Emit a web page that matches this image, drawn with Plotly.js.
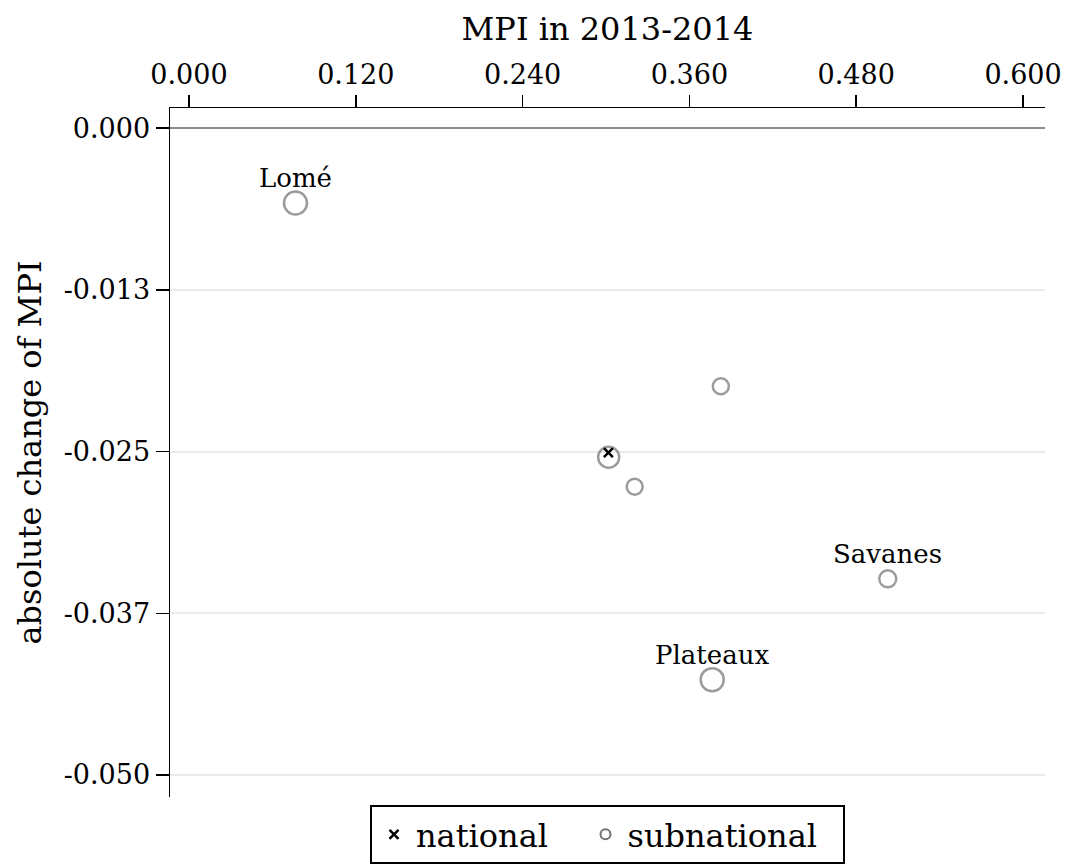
<!DOCTYPE html>
<html>
<head>
<meta charset="utf-8">
<script src="https://cdn.plot.ly/plotly-3.0.1.min.js"></script>
<style>html,body{margin:0;padding:0;background:#fff;}#chart{width:1066px;height:864px;}</style>
</head>
<body>
<div id="chart"></div>
<script>
// Subnational regions of Togo
var regions = ['Lomé', 'Maritime', 'Kara', 'Centrale', 'Savanes', 'Plateaux'];
var regionLabels = ['Lomé', '', '', '', 'Savanes', 'Plateaux'];
var regionMPI = [0.0766, 0.3019, 0.3826, 0.3206, 0.5027, 0.3764];
var regionChange = [-0.0058, -0.02544, -0.01995, -0.02772, -0.03484, -0.04263];
var regionWeight = [23, 21, 16, 16, 17, 23];

var nationalMPI = [0.3017];
var nationalChange = [-0.02509];

var xTickVals = [0, 0.12, 0.24, 0.36, 0.48, 0.60];
var xTickText = ['0.000', '0.120', '0.240', '0.360', '0.480', '0.600'];
var yTickVals = [0, -0.0125, -0.025, -0.0375, -0.05];
var yTickText = ['0.000', '-0.013', '-0.025', '-0.037', '-0.050'];

var FONT = 'DejaVu Serif, Liberation Serif, serif';
var GRAY = '#727272';
var NB = '\u00a0';

var traces = [
  {
    x: regionMPI, y: regionChange, customdata: regions,
    mode: 'markers', type: 'scatter', name: 'subnational', showlegend: false,
    marker: {symbol: 'circle-open', size: regionWeight, color: GRAY, line: {color: GRAY, width: 2.5}},
    cliponaxis: false
  },
  {
    x: nationalMPI, y: nationalChange, mode: 'markers', type: 'scatter', name: 'national', showlegend: false,
    marker: {symbol: 'x-thin', size: 9, color: '#000', line: {color: '#000', width: 2.5}},
    cliponaxis: false
  },
  {
    x: [null], y: [null], mode: 'markers', type: 'scatter', name: 'national' + NB + NB + NB,
    marker: {symbol: 'x-thin', size: 9, color: '#000', line: {color: '#000', width: 2.5}}
  },
  {
    x: [null], y: [null], mode: 'markers', type: 'scatter', name: 'subnational' + NB + NB,
    marker: {symbol: 'circle-open', size: 10, color: GRAY, line: {color: GRAY, width: 2}}
  }
];

var annotations = [];
for (var i = 0; i < regionLabels.length; i++) {
  if (!regionLabels[i]) continue;
  annotations.push({
    x: regionMPI[i], y: regionChange[i], xref: 'x', yref: 'y',
    text: regionLabels[i], showarrow: false,
    xanchor: 'center', yanchor: 'bottom', yshift: 8,
    font: {family: FONT, size: 26, color: '#000'}
  });
}

var layout = {
  width: 1066, height: 864,
  paper_bgcolor: '#fff', plot_bgcolor: '#fff',
  font: {family: FONT, color: '#000', size: 27},
  margin: {l: 170, r: 21, t: 108, b: 67},
  showlegend: true,
  annotations: annotations,
  legend: {
    orientation: 'h', x: 0.5, xanchor: 'center',
    yref: 'container', y: 0.0683, yanchor: 'top',
    itemwidth: 34,
    bordercolor: '#000', borderwidth: 2, bgcolor: '#fff',
    font: {family: FONT, size: 32, color: '#000'}
  },
  xaxis: {
    side: 'top', range: [-0.01367, 0.6158],
    tickmode: 'array', tickvals: xTickVals, ticktext: xTickText,
    ticks: 'outside', ticklen: 12, tickwidth: 1.5, tickcolor: '#000',
    showline: true, linecolor: '#000', linewidth: 1.5,
    showgrid: false, zeroline: false,
    tickfont: {family: FONT, size: 27, color: '#000'},
    title: {text: 'MPI in 2013-2014', font: {family: FONT, size: 32, color: '#000'}, standoff: 8}
  },
  yaxis: {
    range: [-0.0517, 0.00155],
    tickmode: 'array', tickvals: yTickVals, ticktext: yTickText,
    ticks: 'outside', ticklen: 13, tickwidth: 1.5, tickcolor: '#000',
    showline: true, linecolor: '#000', linewidth: 1.5,
    showgrid: true, gridcolor: '#ebebeb', gridwidth: 2,
    zeroline: true, zerolinecolor: '#8c8c8c', zerolinewidth: 1.5,
    tickfont: {family: FONT, size: 27, color: '#000'},
    title: {text: 'absolute change of MPI', font: {family: FONT, size: 32, color: '#000'}, standoff: 12}
  }
};

Plotly.newPlot('chart', traces, layout, {displayModeBar: false, staticPlot: true});
</script>
</body>
</html>
